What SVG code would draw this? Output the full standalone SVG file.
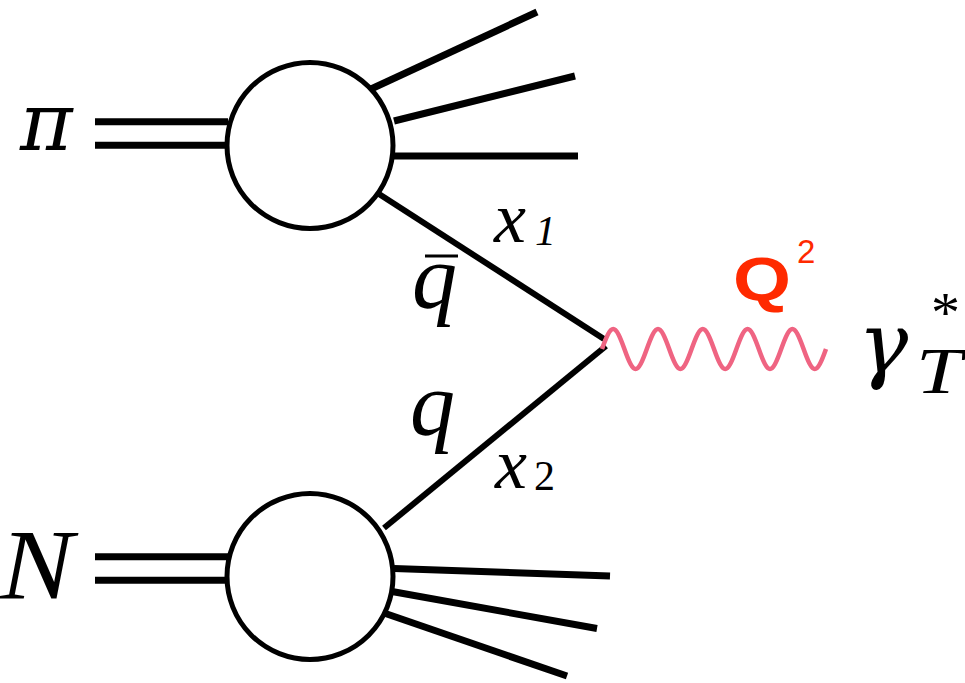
<svg xmlns="http://www.w3.org/2000/svg" width="965" height="683" viewBox="0 0 965 683">
<style>
.blob{fill:#fff;stroke:#000;stroke-width:5}
.ln{stroke:#000;stroke-width:7;stroke-linecap:butt;fill:none}
.q{stroke:#000;stroke-width:6;fill:none}
.wave{stroke:#ef6482;stroke-width:4.5;fill:none;stroke-linecap:butt}
</style>
<rect width="965" height="683" fill="#fff"/>
<g id="connectors">
  <line class="ln" x1="95" y1="121.7" x2="228" y2="121.7"/>
  <line class="ln" x1="95" y1="145.3" x2="228" y2="145.3"/>
  <line class="ln" x1="95" y1="556.7" x2="228" y2="556.7"/>
  <line class="ln" x1="95" y1="580.3" x2="228" y2="580.3"/>
  <line class="ln" x1="371" y1="89" x2="537" y2="12"/>
  <line class="ln" x1="394" y1="121" x2="575" y2="76"/>
  <line class="ln" x1="394" y1="156" x2="578" y2="156"/>
  <line class="ln" x1="394" y1="568.5" x2="610" y2="576"/>
  <line class="ln" x1="392" y1="591.5" x2="597" y2="628.5"/>
  <line class="ln" x1="384" y1="613" x2="567" y2="676"/>
  <line class="q" x1="379" y1="194" x2="604" y2="339"/>
  <line class="q" x1="384" y1="528" x2="606" y2="346"/>
  <path class="wave" d="M602,349 c9.5,-26.7 12.9,-26.7 22.4,0 c9.5,26.7 12.9,26.7 22.4,0 c9.5,-26.7 12.9,-26.7 22.4,0 c9.5,26.7 12.9,26.7 22.4,0 c9.5,-26.7 12.9,-26.7 22.4,0 c9.5,26.7 12.9,26.7 22.4,0 c9.5,-26.7 12.9,-26.7 22.4,0 c9.5,26.7 12.9,26.7 22.4,0 c9.5,-26.7 12.9,-26.7 22.4,0 c9.5,26.7 12.9,26.7 22.4,0"/>
</g>
<g id="pion-blob"><circle class="blob" cx="310" cy="145.5" r="83"/></g>
<g id="nucleon-blob"><circle class="blob" cx="310" cy="576.5" r="83"/></g>
<g id="labels" font-family="Liberation Serif, serif" fill="#000">
  <text x="20" y="150" font-family="DejaVu Serif, serif" font-size="80" font-style="italic">π</text>
  <text transform="translate(0,598) scale(1.1,1)" font-size="100" font-style="italic">N</text>
  <text x="412" y="308" font-size="90" font-style="italic">q</text>
  <line x1="425" y1="256" x2="458" y2="256" stroke="#000" stroke-width="3"/>
  <text x="410" y="435" font-size="90" font-style="italic">q</text>
  <text x="494" y="242" font-size="72" font-style="italic">x</text>
  <text x="535" y="245" font-size="42" font-style="italic">1</text>
  <text x="495" y="488" font-size="72" font-style="italic">x</text>
  <text x="534" y="490" font-size="42">2</text>
  <text x="733" y="300" font-family="Liberation Sans, sans-serif" font-size="62" font-weight="bold" fill="#ff2a00" textLength="58" lengthAdjust="spacingAndGlyphs">Q</text>
  <text x="797" y="263" font-family="Liberation Sans, sans-serif" font-size="33" fill="#ff2a00">2</text>
  <text x="858" y="372" font-family="DejaVu Serif, serif" font-size="84" font-style="italic">γ</text>
  <text x="931" y="332" font-size="58">*</text>
  <text x="916" y="393" font-size="65" font-style="italic" textLength="46" lengthAdjust="spacingAndGlyphs">T</text>
</g>
</svg>
